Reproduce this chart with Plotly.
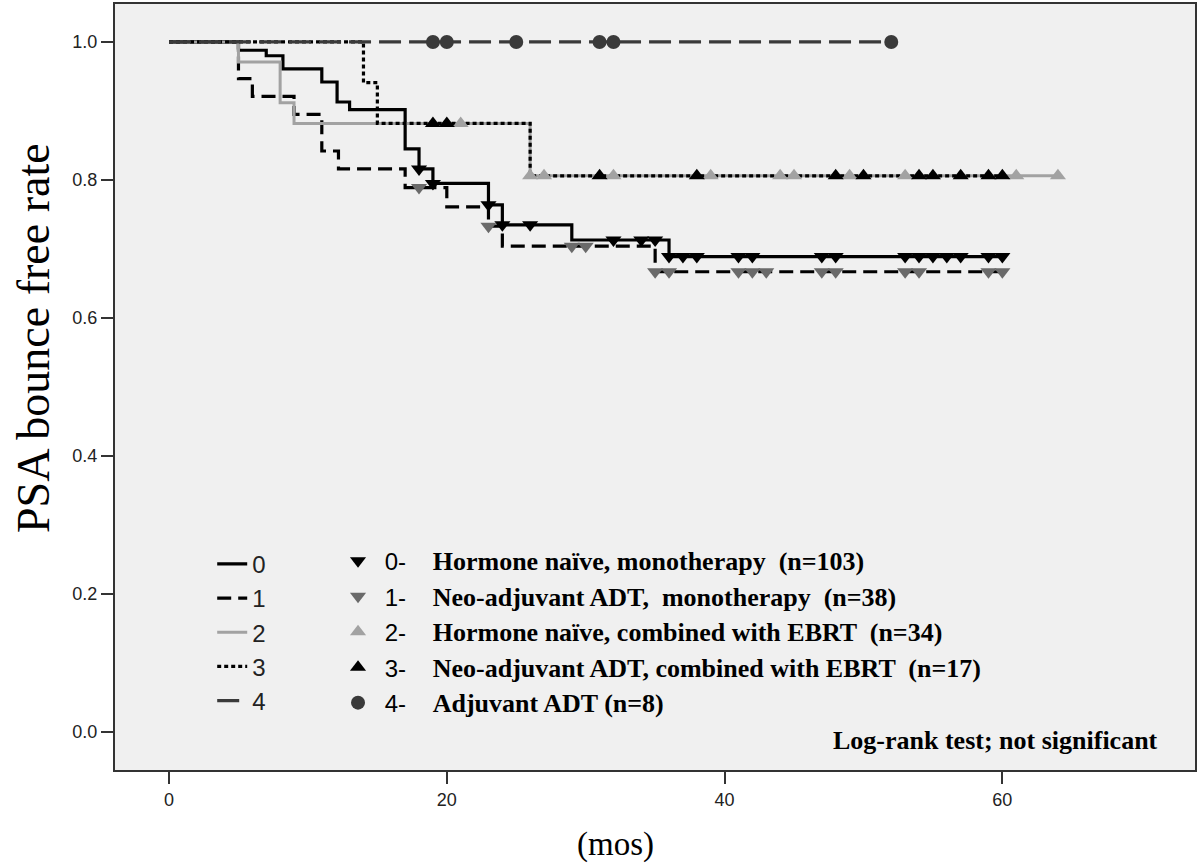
import numpy as np
import plotly.graph_objects as go

# ---------------- data ----------------
group_ids = ["0", "1", "2", "3", "4"]
group_labels = [
    "Hormone naïve, monotherapy  (n=103)",
    "Neo-adjuvant ADT,  monotherapy  (n=38)",
    "Hormone naïve, combined with EBRT  (n=34)",
    "Neo-adjuvant ADT, combined with EBRT  (n=17)",
    "Adjuvant ADT (n=8)",
]

# Kaplan-Meier step curves: time of each step (months) and survival after it
g0_time = [0, 5, 7, 8.2, 11, 12.1, 13, 17, 18, 19, 23, 24, 29, 36, 60]
g0_surv = [1.0, 0.988, 0.980, 0.961, 0.942, 0.913, 0.902, 0.845, 0.816, 0.795,
           0.764, 0.735, 0.713, 0.689, 0.689]
g0_cens = [18, 19, 23, 24, 26, 32, 34, 35, 36, 37, 38, 41, 42, 47, 48,
           53, 54, 55, 56, 57, 59, 60]

g1_time = [0, 5, 6, 9, 11, 12.2, 17, 20, 23, 24, 35, 60]
g1_surv = [1.0, 0.947, 0.921, 0.895, 0.842, 0.816, 0.789, 0.761, 0.733,
           0.704, 0.667, 0.667]
g1_cens = [18, 23, 29, 30, 35, 36, 41, 42, 43, 47, 48, 53, 54, 59, 60]

g2_time = [0, 5, 8, 9, 26, 64]
g2_surv = [1.0, 0.971, 0.912, 0.882, 0.806, 0.806]
g2_cens = [21, 26, 27, 32, 39, 44, 45, 49, 53, 61, 64]

g3_time = [0, 14, 15, 26, 60]
g3_surv = [1.0, 0.941, 0.882, 0.806, 0.806]
g3_cens = [19, 20, 31, 38, 48, 50, 54, 55, 57, 59, 60]

g4_time = [0, 52]
g4_surv = [1.0, 1.0]
g4_cens = [19, 20, 25, 31, 32, 52]

x_ticks = [0, 20, 40, 60]
y_ticks = [0.0, 0.2, 0.4, 0.6, 0.8, 1.0]
y_tick_text = ["0.0", "0.2", "0.4", "0.6", "0.8", "1.0"]

# ---------------- styles ----------------
line_colors = ["#000000", "#000000", "#a2a2a2", "#000000", "#3a3a3a"]
mark_colors = ["#000000", "#6a6a6a", "#a2a2a2", "#000000", "#3a3a3a"]
dashes = ["solid", "14px,7px", "solid", "4px,3px", "22px,8px"]
widths = [3.2, 3.2, 3.0, 3.2, 3.2]
symbols = ["triangle-down", "triangle-down", "triangle-up", "triangle-up", "circle"]

times = [g0_time, g1_time, g2_time, g3_time, g4_time]
survs = [g0_surv, g1_surv, g2_surv, g3_surv, g4_surv]
cens = [g0_cens, g1_cens, g2_cens, g3_cens, g4_cens]


def surv_at(t, s, c):
    t = np.asarray(t, dtype=float)
    s = np.asarray(s, dtype=float)
    idx = np.searchsorted(t, np.asarray(c, dtype=float), side="right") - 1
    return s[idx]


fig = go.Figure()

for i in range(5):
    fig.add_trace(go.Scatter(
        x=times[i], y=survs[i], mode="lines", line_shape="hv",
        line=dict(color=line_colors[i], width=widths[i], dash=dashes[i]),
        name=group_ids[i], legend="legend", legendgroup="g" + group_ids[i],
        hoverinfo="skip",
    ))

for i in range(5):
    label = ("<span style='font-family:Liberation Sans;font-weight:normal;font-size:24px'>"
             + " " + group_ids[i] + "-    </span>"
             + "<span style='font-size:26px'><b>" + group_labels[i] + "</b></span>")
    fig.add_trace(go.Scatter(
        x=cens[i], y=surv_at(times[i], survs[i], cens[i]), mode="markers",
        marker=dict(symbol=symbols[i], color=mark_colors[i], size=14,
                    line=dict(width=0)),
        name=label, legend="legend2", legendgroup="m" + group_ids[i],
        hoverinfo="skip",
    ))

axis_common = dict(
    showline=True, linecolor="#333333", linewidth=2, mirror=True,
    ticks="outside", ticklen=12, tickwidth=2, tickcolor="#333333",
    showgrid=False, zeroline=False,
    tickfont=dict(family="Liberation Sans", size=18, color="#222222"),
)

fig.update_layout(
    width=1200, height=866,
    margin=dict(l=115, r=5, t=2, b=96),
    paper_bgcolor="white", plot_bgcolor="#f0f0f0",
    xaxis=dict(range=[-3.89, 73.87], tickvals=x_ticks, **axis_common),
    yaxis=dict(range=[-0.055, 1.055], tickvals=y_ticks, ticktext=y_tick_text,
               **axis_common),
    legend=dict(
        x=0.09, y=0.298, xanchor="left", yanchor="top",
        bgcolor="rgba(0,0,0,0)", borderwidth=0,
        font=dict(family="Liberation Sans", size=24, color="#222222"),
        traceorder="normal", tracegroupgap=0,
    ),
    legend2=dict(
        x=0.2065, y=0.303, xanchor="left", yanchor="top",
        bgcolor="rgba(0,0,0,0)", borderwidth=0,
        font=dict(family="Liberation Serif", size=25, color="#000000"),
        traceorder="normal", tracegroupgap=0,
    ),
    showlegend=True,
    annotations=[
        dict(text="PSA bounce free rate", xref="paper", yref="paper",
             x=-0.075, y=0.564, textangle=-90, showarrow=False,
             xanchor="center", yanchor="middle",
             font=dict(family="Liberation Serif", size=46, color="#000000")),
        dict(text="(mos)", xref="paper", yref="paper",
             x=0.4635, y=-0.097, showarrow=False,
             xanchor="center", yanchor="middle",
             font=dict(family="Liberation Serif", size=33, color="#000000")),
        dict(text="<b>Log-rank test; not significant</b>", xref="paper",
             yref="paper", x=0.815, y=0.039, showarrow=False,
             xanchor="center", yanchor="middle",
             font=dict(family="Liberation Serif", size=26, color="#000000")),
    ],
)

fig.write_html(
    "out.html",
    config={"displayModeBar": False},
    post_script="document.body.style.margin='0';document.body.style.overflow='hidden';",
)
